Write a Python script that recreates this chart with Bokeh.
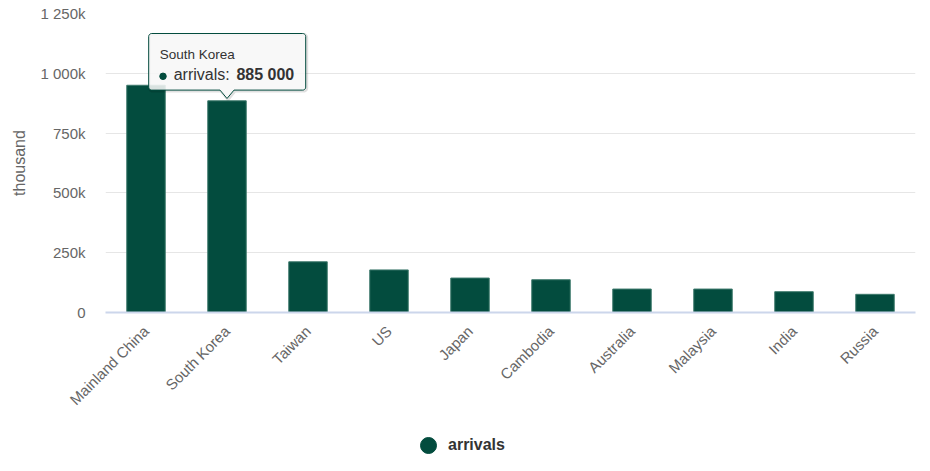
import numpy as np
from bokeh.plotting import figure
from bokeh.layouts import column
from bokeh.models import (FactorRange, Range1d, FixedTicker, CustomJSTickFormatter,
                          Legend, LegendItem, Label, ColumnDataSource)
from bokeh.embed import file_html
from bokeh.resources import INLINE
from math import pi

# ---- data ----
countries = ["Mainland China", "South Korea", "Taiwan", "US", "Japan",
             "Cambodia", "Australia", "Malaysia", "India", "Russia"]
arrivals = [950000, 885000, 212000, 178000, 144000, 137000, 98000, 98000, 87000, 76000]
y_ticks = [0, 250000, 500000, 750000, 1000000, 1250000]
series_name = "arrivals"
y_title = "thousand"
tooltip_country = "South Korea"

# ---- style / layout ----
GREEN = "#034c3e"
FONT = "Liberation Sans"
W, H = 925, 425
BL, BR, BT, BB = 105, 10, 13, 113
FW = W - BL - BR
FH = H - BT - BB
YMAX = y_ticks[-1]

src = ColumnDataSource(dict(country=countries, arrivals=arrivals))

p = figure(width=W, height=H, x_range=FactorRange(*countries), y_range=Range1d(0, YMAX),
           output_backend="svg", toolbar_location=None,
           min_border_left=BL, min_border_right=BR, min_border_top=BT, min_border_bottom=BB)
p.outline_line_color = None
p.background_fill_color = "white"
p.border_fill_color = "white"

bars = p.vbar(x="country", top="arrivals", width=0.475, source=src,
              fill_color=GREEN, line_color="#3f7a6d", line_width=1)

# grid
p.xgrid.grid_line_color = None
p.ygrid.grid_line_color = "#e6e6e6"
p.ygrid.grid_line_width = 1

# y axis
p.yaxis.ticker = FixedTicker(ticks=y_ticks)
p.yaxis.formatter = CustomJSTickFormatter(code="""
    const v = Math.round(tick / 1000);
    if (v === 0) return "0";
    return v.toString().replace(/\\B(?=(\\d{3})+(?!\\d))/g, " ") + "k";
""")
p.yaxis.axis_line_color = None
p.yaxis.major_tick_line_color = None
p.yaxis.minor_tick_line_color = None
p.yaxis.major_tick_out = 0
p.yaxis.major_tick_in = 0
p.yaxis.major_label_standoff = 20
p.yaxis.major_label_text_font = FONT
p.yaxis.major_label_text_font_size = "15px"
p.yaxis.major_label_text_color = "#666666"
p.yaxis.axis_label = y_title
p.yaxis.axis_label_text_font = FONT
p.yaxis.axis_label_text_font_size = "16px"
p.yaxis.axis_label_text_font_style = "normal"
p.yaxis.axis_label_text_color = "#666666"
p.yaxis.axis_label_standoff = 9

# x axis
p.xaxis.axis_line_color = "#ccd6eb"
p.xaxis.axis_line_width = 2
p.xaxis.major_tick_line_color = None
p.xaxis.minor_tick_line_color = None
p.xaxis.major_tick_out = 0
p.xaxis.major_tick_in = 0
p.xaxis.major_label_orientation = pi / 4
p.xaxis.major_label_standoff = 16
p.xaxis.major_label_text_font = FONT
p.xaxis.major_label_text_font_size = "15px"
p.xaxis.major_label_text_color = "#666666"

# ---- static tooltip pointing at the chosen bar ----
ti = countries.index(tooltip_country)
tv = arrivals[ti]
cx = ti + 0.5
UNIT = FW / len(countries)


def X(dpx):
    return cx + dpx / UNIT


def Y(dpy):  # dpy: pixels downward from bar top
    return tv - dpy * YMAX / FH


L_, R_, T_, B_ = -78.3, 78.7, -67.3, -10.7
TIP, HW, RAD = -2.3, 7.0, 3.0


def rounded_outline():
    pts = []
    pts += [(-HW, B_), (0, TIP), (HW, B_)]
    for a in np.linspace(pi / 2, 0, 6):
        pts.append((R_ - RAD + RAD * np.cos(a), B_ - RAD + RAD * np.sin(a)))
    for a in np.linspace(0, -pi / 2, 6):
        pts.append((R_ - RAD + RAD * np.cos(a), T_ + RAD + RAD * np.sin(a)))
    for a in np.linspace(-pi / 2, -pi, 6):
        pts.append((L_ + RAD + RAD * np.cos(a), T_ + RAD + RAD * np.sin(a)))
    for a in np.linspace(pi, pi / 2, 6):
        pts.append((L_ + RAD + RAD * np.cos(a), B_ - RAD + RAD * np.sin(a)))
    pts.append((-HW, B_))
    return pts


outline = rounded_outline()
p.patch([X(dx + 1) for dx, dy in outline], [Y(dy + 1) for dx, dy in outline],
        fill_alpha=0, line_color="black", line_alpha=0.12, line_width=3)
p.patch([X(dx) for dx, dy in outline], [Y(dy) for dx, dy in outline],
        fill_color="#f7f7f7", fill_alpha=0.88, line_color=GREEN, line_width=1)

p.add_layout(Label(x=X(-67.3), y=Y(-46.5), text=tooltip_country, text_font=FONT,
                   text_font_size="13.5px", text_color="#333333",
                   text_baseline="alphabetic", text_align="left"))
p.scatter(x=[X(-64)], y=[Y(-24.5)], marker="circle", size=6.5, fill_color=GREEN, line_color=GREEN)
p.add_layout(Label(x=X(-53.3), y=Y(-26.2), text=series_name + ":", text_font=FONT,
                   text_font_size="16px", text_color="#333333",
                   text_baseline="alphabetic", text_align="left"))
p.add_layout(Label(x=X(9.4), y=Y(-26.2), text=f"{tv:,}".replace(",", " "), text_font=FONT,
                   text_font_size="16px", text_font_style="bold", text_color="#333333",
                   text_baseline="alphabetic", text_align="left"))

# ---- legend strip (separate small figure below the chart; frame aligned with chart) ----
LH = 40
lf = figure(width=W, height=LH, x_range=Range1d(0, 1), y_range=Range1d(0, 1),
            x_axis_type=None, y_axis_type=None, output_backend="svg",
            toolbar_location=None, min_border=0)
lf.outline_line_color = None
lf.grid.visible = False
leg_src = ColumnDataSource(dict(x=[-10], y=[-10]))
leg_r = lf.scatter(x="x", y="y", source=leg_src, marker="circle", size=16,
                   fill_color=GREEN, line_color=GREEN)
legend = Legend(items=[LegendItem(label=series_name, renderers=[leg_r])],
                location=(303, 0), orientation="horizontal",
                glyph_width=40, glyph_height=40, label_standoff=0,
                padding=0, margin=0, spacing=0,
                border_line_color=None, background_fill_alpha=0,
                label_text_font=FONT, label_text_font_size="16px",
                label_text_font_style="bold", label_text_color="#333333")
lf.add_layout(legend, "center")

open("out.html", "w").write(file_html(column(p, lf, spacing=0), INLINE))
